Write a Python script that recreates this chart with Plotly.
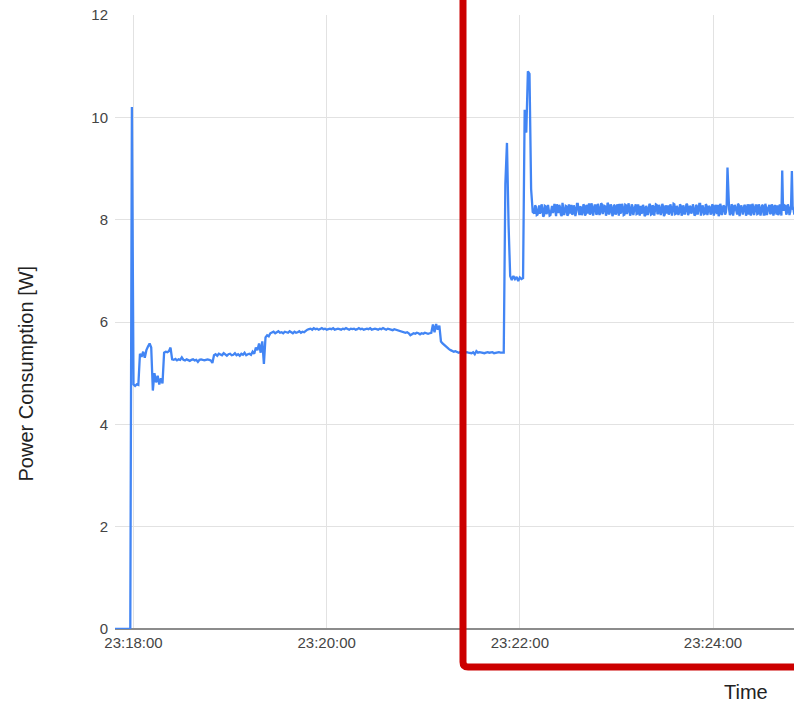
import plotly.graph_objects as go

# Power log: one reading per second from 23:17:48, two per second once steady
start_label = "23:17:48"

# device off, then boot spike and settling
off_w = [0.0] * 11
boot_w = [10.2, 4.78, 4.75, 4.78, 4.77, 5.38, 5.32, 5.42, 5.30, 5.45, 5.52, 5.58, 5.50,
          4.66, 5.00, 4.82, 4.95, 4.78, 4.90, 4.80, 5.40, 5.42, 5.41, 5.43, 5.50]
settle_w = [5.27, 5.26, 5.28, 5.25, 5.27, 5.26, 5.31, 5.26, 5.25, 5.27, 5.26, 5.24, 5.26,
            5.27, 5.25, 5.26, 5.22, 5.26, 5.27, 5.26, 5.25, 5.26, 5.27, 5.26, 5.25, 5.20]
idle_w = [5.35, 5.37, 5.34, 5.38, 5.36, 5.35, 5.39, 5.36, 5.34, 5.37, 5.38, 5.35,
          5.36, 5.39, 5.35, 5.37, 5.34, 5.38, 5.36, 5.40, 5.35, 5.37, 5.38, 5.36]
ramp_w = [5.42, 5.38, 5.50, 5.45, 5.58, 5.40, 5.62, 5.18, 5.70, 5.74, 5.72, 5.78]
plateau_w = [5.79, 5.81, 5.78, 5.80, 5.82, 5.79, 5.80, 5.78, 5.81, 5.80, 5.79, 5.82,
             5.80, 5.78, 5.81, 5.79, 5.80, 5.82, 5.79, 5.81, 5.80, 5.83, 5.85]
high_w = [5.86, 5.87, 5.85, 5.88, 5.86, 5.87, 5.85, 5.86, 5.88, 5.86,
          5.87, 5.85, 5.86, 5.87, 5.86, 5.88, 5.85, 5.86, 5.87, 5.86,
          5.85, 5.87, 5.86, 5.88, 5.86, 5.85, 5.87, 5.86, 5.87, 5.85,
          5.86, 5.88, 5.86, 5.87, 5.85, 5.86, 5.87, 5.86, 5.88, 5.85,
          5.86, 5.87, 5.86, 5.85, 5.87, 5.86, 5.88, 5.86, 5.85, 5.87,
          5.86, 5.85, 5.84, 5.86, 5.85, 5.84, 5.83]
dip_w = [5.82, 5.81, 5.80, 5.79, 5.80, 5.78, 5.74, 5.76, 5.78, 5.77,
         5.79, 5.78, 5.76, 5.78, 5.77, 5.79, 5.78, 5.77, 5.78, 5.79,
         5.95, 5.80, 5.96, 5.85, 5.93,
         5.62, 5.58, 5.55, 5.52, 5.50, 5.47, 5.45, 5.44, 5.42, 5.43, 5.41]
low_w = [5.40, 5.41, 5.40, 5.39, 5.40, 5.41, 5.40, 5.40, 5.39, 5.41,
         5.37, 5.43, 5.40, 5.41, 5.40, 5.40, 5.39, 5.40, 5.41, 5.40,
         5.40, 5.41, 5.39, 5.40, 5.40, 5.41, 5.40, 5.40]
surge_w = [5.40, 8.7, 9.5, 7.9, 6.9, 6.82, 6.90, 6.84, 6.88, 6.80, 6.87, 6.84, 6.86,
           10.15, 9.7, 10.9, 10.85, 8.6, 8.15]

# steady state: readings on the whole second ...
steady_w = [8.12, 8.25, 8.10, 8.28, 8.15, 8.22, 8.08, 8.26, 8.14, 8.21,
            8.09, 8.27, 8.18, 8.11, 8.30, 8.13, 8.24, 8.07, 8.23, 8.16,
            8.26, 8.10, 8.19, 8.29, 8.12, 8.22, 8.15, 8.31, 8.09, 8.24,
            8.14, 8.27, 8.11, 8.20, 8.32, 8.13, 8.25, 8.17, 8.28, 8.12,
            8.23, 8.15, 8.30, 8.18, 8.26, 8.12, 8.29, 8.16, 8.24, 8.11,
            8.27, 8.14, 8.22, 8.31, 8.15, 8.25, 8.10, 8.28, 8.17, 8.23,
            8.13, 8.26, 8.18, 8.30, 8.12, 8.21, 8.27, 8.14, 8.24, 8.09,
            8.22, 8.16, 8.28, 8.11, 8.25, 8.19, 8.29, 8.13, 8.23, 8.15,
            8.26, 8.10, 8.21, 8.28, 8.14, 8.24, 8.17, 8.30, 8.12, 8.22,
            8.15, 8.27, 8.11, 8.23, 8.18, 8.29, 8.13, 8.25, 8.16, 8.21,
            8.10, 8.26, 8.19, 8.31, 8.14, 8.22, 8.12, 8.28, 8.17, 8.24,
            8.13, 8.27, 8.15, 8.22, 8.29, 8.11, 8.25, 8.18, 8.26, 8.14,
            9.02, 8.20, 8.12, 8.27, 8.16, 8.24, 8.10, 8.29, 8.15, 8.23,
            8.18, 8.26, 8.11, 8.22, 8.30, 8.14, 8.25, 8.17, 8.28, 8.12,
            8.23, 8.16, 8.27, 8.10, 8.24, 8.19, 8.29, 8.13, 8.26, 8.15,
            8.22, 8.28, 8.12, 8.25, 8.96, 8.18, 8.27, 8.14, 8.23, 8.16,
            8.95, 8.21, 8.26]
# ... and on the half second in between
steady_half_w = [8.28, 8.09, 8.24, 8.12, 8.30, 8.06, 8.27, 8.11, 8.29, 8.08,
                 8.25, 8.13, 8.31, 8.07, 8.22, 8.29, 8.10, 8.33, 8.09, 8.27,
                 8.08, 8.30, 8.12, 8.10, 8.28, 8.07, 8.31, 8.11, 8.26, 8.09,
                 8.30, 8.08, 8.29, 8.12, 8.10, 8.32, 8.08, 8.28, 8.10, 8.31,
                 8.09, 8.32, 8.11, 8.27, 8.08, 8.33, 8.10, 8.30, 8.07, 8.29,
                 8.10, 8.30, 8.08, 8.12, 8.31, 8.09, 8.29, 8.11, 8.32, 8.08,
                 8.30, 8.09, 8.28, 8.11, 8.30, 8.08, 8.12, 8.29, 8.07, 8.27,
                 8.09, 8.31, 8.10, 8.28, 8.08, 8.30, 8.11, 8.29, 8.09, 8.31,
                 8.07, 8.28, 8.12, 8.10, 8.30, 8.08, 8.31, 8.11, 8.27, 8.09,
                 8.30, 8.08, 8.28, 8.10, 8.31, 8.09, 8.27, 8.12, 8.30, 8.08,
                 8.29, 8.10, 8.31, 8.08, 8.28, 8.11, 8.30, 8.09, 8.27, 8.10,
                 8.30, 8.08, 8.29, 8.11, 8.07, 8.31, 8.09, 8.28, 8.10, 8.30,
                 8.25, 8.09, 8.30, 8.08, 8.29, 8.11, 8.31, 8.07, 8.28, 8.10,
                 8.29, 8.08, 8.30, 8.10, 8.08, 8.31, 8.09, 8.28, 8.11, 8.30,
                 8.08, 8.29, 8.10, 8.31, 8.09, 8.27, 8.11, 8.30, 8.08, 8.29,
                 8.10, 8.09, 8.30, 8.08, 8.22, 8.28, 8.10, 8.30, 8.09, 8.28,
                 8.20, 8.10]

tick_labels = ["23:18:00", "23:20:00", "23:22:00", "23:24:00"]
y_ticks = [0, 2, 4, 6, 8, 10, 12]


def to_seconds(label):
    h, m, s = (float(p) for p in label.split(":"))
    return h * 3600 + m * 60 + s


t0 = to_seconds(start_label)
coarse_w = (off_w + boot_w + settle_w + idle_w + ramp_w + plateau_w + high_w
            + dip_w + low_w + surge_w)
times = [t0 + i for i in range(len(coarse_w))]
watts = list(coarse_w)
t_steady = t0 + len(coarse_w)
for i, v in enumerate(steady_w):
    times.append(t_steady + i)
    watts.append(v)
    if i < len(steady_half_w):
        times.append(t_steady + i + 0.5)
        watts.append(steady_half_w[i])

tick_vals = [to_seconds(lbl) for lbl in tick_labels]

W, H = 794, 706
ML, MR, MT, MB = 115, 0, 15, 77
PW, PH = W - ML - MR, H - MT - MB


def px(x):
    return (x - ML) / PW


def py(y):
    return (H - MB - y) / PH


FONT = "Liberation Sans, Arial, sans-serif"

fig = go.Figure()
fig.add_trace(go.Scatter(
    x=times, y=watts, mode="lines",
    line=dict(color="#4285f4", width=2.3),
    hoverinfo="skip", showlegend=False,
))

# highlight frame around the second half of the run
x0, ybot = px(463), py(667)
ytop, xr = py(-30), px(840)
rx, ry = 5 / PW, 5 / PH
frame_path = (f"M {x0},{ytop} L {x0},{ybot + ry} "
              f"Q {x0},{ybot} {x0 + rx},{ybot} L {xr},{ybot}")
fig.add_shape(type="path", path=frame_path, xref="paper", yref="paper",
              line=dict(color="#cc0000", width=7), layer="above")

fig.add_annotation(text="Power Consumption [W]", textangle=-90,
                   x=px(25.5), y=py(374), xref="paper", yref="paper",
                   xanchor="center", yanchor="middle", showarrow=False,
                   font=dict(family=FONT, size=20, color="#222"))
fig.add_annotation(text="Time", x=px(746), y=py(692),
                   xref="paper", yref="paper",
                   xanchor="center", yanchor="middle", showarrow=False,
                   font=dict(family=FONT, size=20, color="#222"))

fig.update_layout(
    width=W, height=H,
    margin=dict(l=ML, r=MR, t=MT, b=MB, pad=0),
    paper_bgcolor="white", plot_bgcolor="white",
    font=dict(family=FONT),
    xaxis=dict(
        range=[t0 + 0.5, t0 + 0.5 + PW / 1.6097],
        tickmode="array", tickvals=tick_vals, ticktext=tick_labels,
        showgrid=True, gridcolor="#e2e2e2", gridwidth=1,
        zeroline=False, showline=False, ticks="",
        tickfont=dict(family=FONT, size=15, color="#444"),
        ticklabelstandoff=3,
    ),
    yaxis=dict(
        range=[0, 12], tickmode="array", tickvals=y_ticks,
        showgrid=True, gridcolor="#e2e2e2", gridwidth=1,
        zeroline=True, zerolinecolor="#8c8c8c", zerolinewidth=1.5,
        showline=False, ticks="",
        tickfont=dict(family=FONT, size=15, color="#444"),
        ticklabelstandoff=6,
    ),
)

fig.write_html("out.html", config={"displayModeBar": False})
